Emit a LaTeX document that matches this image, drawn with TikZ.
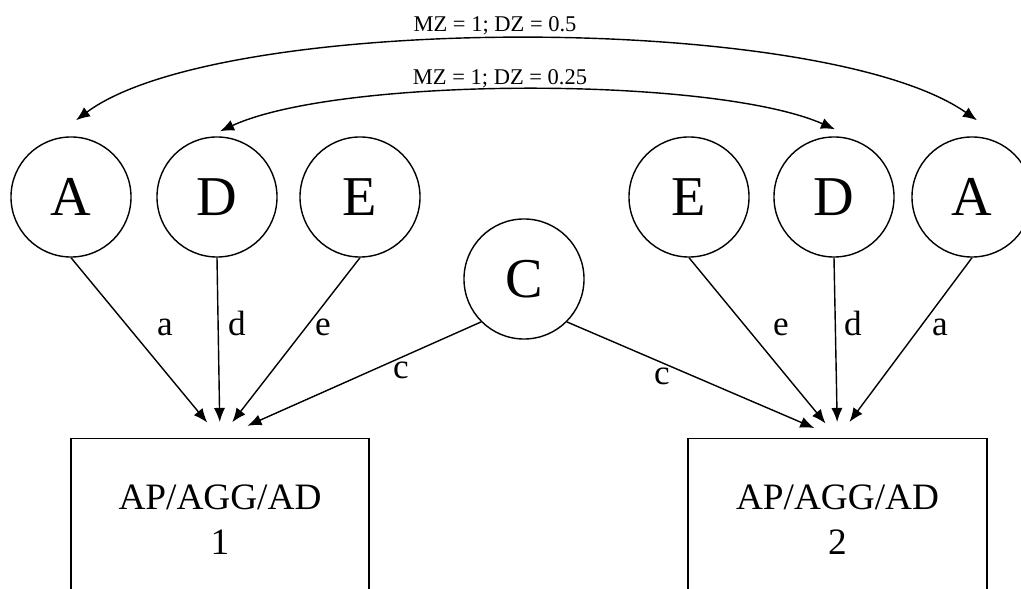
\documentclass[tikz,border=0pt]{standalone}
\usepackage{fontspec}
\setmainfont{Liberation Serif}
\usetikzlibrary{arrows.meta}

\begin{document}
\begin{tikzpicture}[x=0.025cm, y=-0.025cm,
    latent/.style={draw, circle, line width=1pt, minimum size=3cm, inner sep=0pt, font=\fontsize{40}{44}\selectfont},
    observed/.style={draw, rectangle, line width=1pt, minimum width=7.45cm, minimum height=4.05cm, anchor=north, align=center, font=\fontsize{26.5}{32}\selectfont},
    loading/.style={-{Latex[length=10pt,width=8pt]}, line width=1pt},
    twinarc/.style={{Latex[length=10pt,width=8pt]}-{Latex[length=10pt,width=8pt]}, line width=1pt},
    coef/.style={anchor=base, font=\fontsize{25}{28}\selectfont},
    corr/.style={anchor=base, font=\fontsize{16}{19}\selectfont}]

    \useasboundingbox (0,0) rectangle (1021,589);
    \clip (0,0) rectangle (1021,589);

    \node[latent] (A1) at (71,197) {A};
    \node[latent] (D1) at (217,197) {D};
    \node[latent] (E1) at (360,197) {E};
    \node[latent] (C) at (524,279) {C};
    \node[latent] (E2) at (689,197) {E};
    \node[latent] (D2) at (834,197) {D};
    \node[latent] (A2) at (972,197) {A};

    \node[observed] (P1) at (220,438) {AP/AGG/AD\\1};
    \node[observed, minimum width=7.48cm] (P2) at (837.5,438) {AP/AGG/AD\\2};

    \draw[loading, shorten >=0.5cm] (A1.south) -- (P1.north);
    \draw[loading, shorten >=0.4cm] (D1.south) -- (P1.north);
    \draw[loading, shorten >=0.5cm] (E1.south) -- (P1.north);
    \draw[loading, shorten >=0.75cm] (C.225) -- (P1.north);
    \draw[loading, shorten >=0.63cm] (C.315) -- (P2.north);
    \draw[loading, shorten >=0.47cm] (E2.south) -- (P2.north);
    \draw[loading, shorten >=0.4cm] (D2.south) -- (P2.north);
    \draw[loading, shorten >=0.5cm] (A2.south) -- (P2.north);

    \draw[twinarc] ([shift={(5,-16)}]A1.north) .. controls (221,12) and (823,12) .. ([shift={(5,-16)}]A2.north);
    \draw[twinarc] ([shift={(3,-5)}]D1.north) .. controls (340,76) and (714,76) .. ([shift={(1,-7)}]D2.north);

    \node[corr] (rA) at (495,32) {MZ = 1; DZ = 0.5};
    \node[corr] (rD) at (500,85) {MZ = 1; DZ = 0.25};

    \node[coef] (la1) at (165,336) {a};
    \node[coef] (ld1) at (237,336) {d};
    \node[coef] (le1) at (323,336) {e};
    \node[coef] (lc1) at (401,379) {c};
    \node[coef] (lc2) at (662,385) {c};
    \node[coef] (le2) at (781,336) {e};
    \node[coef] (ld2) at (853,336) {d};
    \node[coef] (la2) at (940,336) {a};

    \end{tikzpicture}
\end{document}
